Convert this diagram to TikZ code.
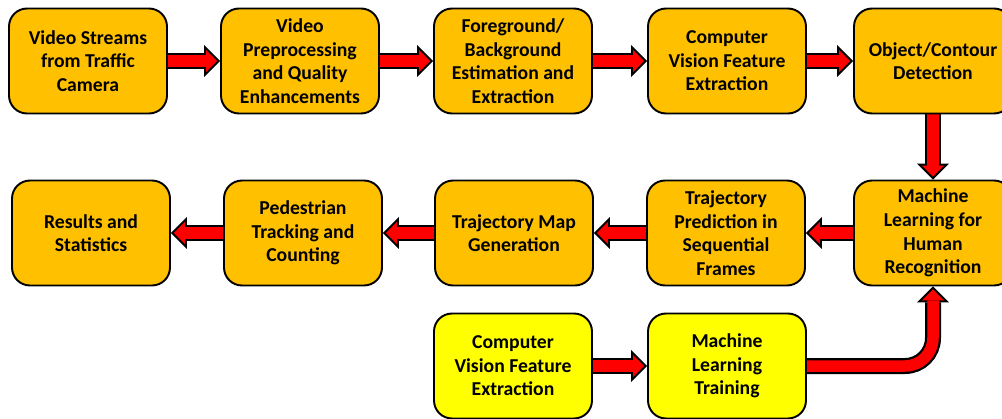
\documentclass[tikz,border=0pt]{standalone}
\usepackage{fontspec}
\setmainfont{Carlito}
\usepackage{tikz}
\usetikzlibrary{arrows.meta, backgrounds}
\definecolor{boxorange}{RGB}{255,192,0}
\definecolor{boxyellow}{RGB}{255,255,0}

\begin{document}
\begin{tikzpicture}[
  x=0.02cm, y=-0.02cm,
  box/.style={rectangle, draw, rounded corners=0.36cm, line width=1.1pt, fill=boxorange, minimum width=3.16cm, minimum height=2.1cm, align=center, font=\fontsize{11.2}{13.4}\selectfont\bfseries},
  trainbox/.style={box, fill=boxyellow},
  arrowout/.style={line width=0.32cm, black, -{Triangle[length=0.32cm, width=0.64cm, line width=0pt]}},
  arrowin/.style={line width=0.23cm, red, shorten >=0.057cm, -{Triangle[length=0.22cm, width=0.44cm, line width=0pt]}}
]
\useasboundingbox (0,0) rectangle (1002,419);
\clip (0,0) rectangle (1002,419);

% First row
\node[box] (video) at (88, 61) {Video Streams\\from Traffic\\Camera};
\node[box] (prep) at (300, 61) {Video\\Preprocessing\\and Quality\\Enhancements};
\node[box] (fgbg) at (513, 61) {Foreground/\\Background\\Estimation and\\Extraction};
\node[box] (cvfeat) at (727, 61) {Computer\\Vision Feature\\Extraction};
\node[box] (contour) at (933, 61) {Object/Contour\\Detection};

% Second row
\node[box] (mlhuman) at (933, 233) {Machine\\Learning for\\Human\\Recognition};
\node[box] (trajpred) at (726, 233) {Trajectory\\Prediction in\\Sequential\\Frames};
\node[box] (trajmap) at (514, 233) {Trajectory Map\\Generation};
\node[box] (tracking) at (303, 233) {Pedestrian\\Tracking and\\Counting};
\node[box] (results) at (91, 233) {Results and\\Statistics};

% Training
\node[trainbox] (traincv) at (513, 366) {Computer\\Vision Feature\\Extraction};
\node[trainbox] (training) at (727, 366) {Machine\\Learning\\Training};

% Arrows
\begin{scope}[on background layer]
\foreach \a/\b in {video/prep, prep/fgbg, fgbg/cvfeat, cvfeat/contour, contour/mlhuman,
                   mlhuman/trajpred, trajpred/trajmap, trajmap/tracking, tracking/results, traincv/training} {
  \draw[arrowout] (\a) -- (\b);
  \draw[arrowin] (\a) -- (\b);
}
\draw[arrowout, rounded corners=0.56cm] (training) -| (mlhuman);
\draw[arrowin, rounded corners=0.56cm] (training) -| (mlhuman);
\end{scope}

\end{tikzpicture}
\end{document}
